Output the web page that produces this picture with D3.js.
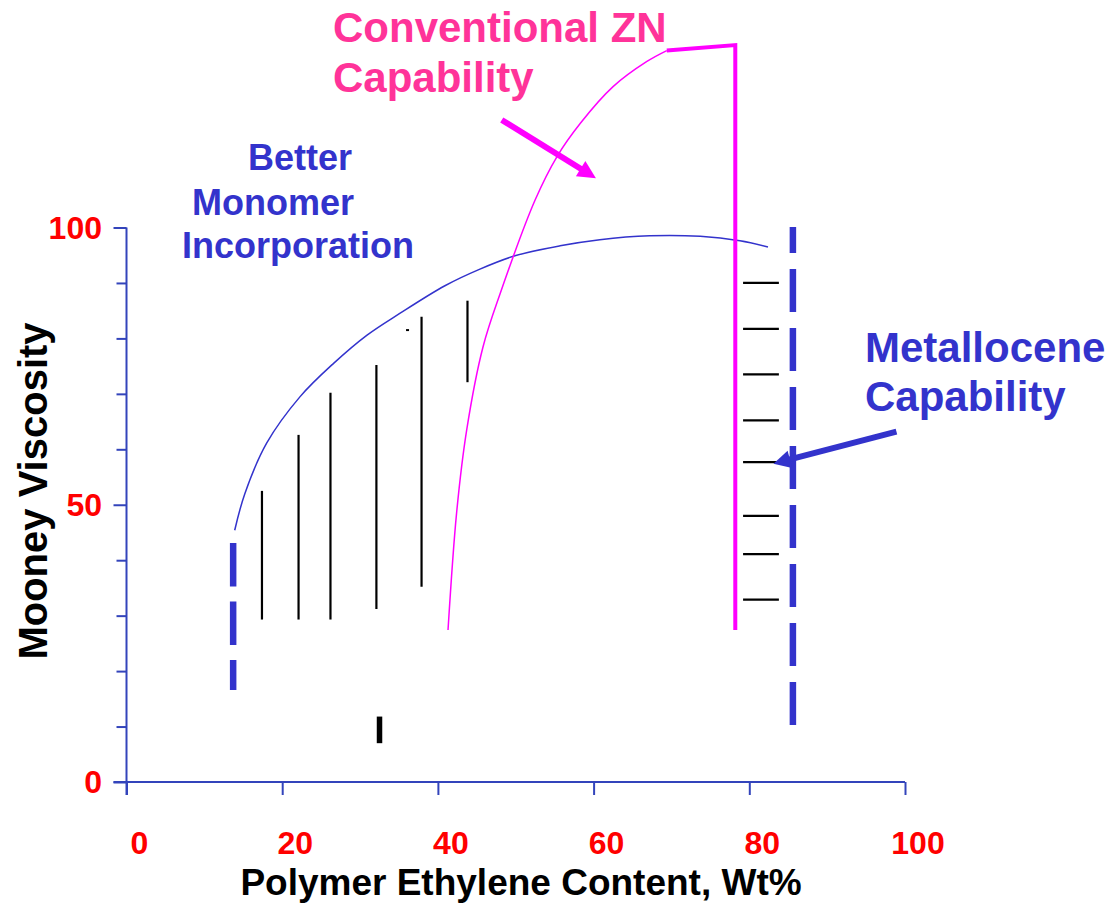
<!DOCTYPE html>
<html>
<head>
<meta charset="utf-8">
<script src="https://cdn.jsdelivr.net/npm/d3@7"></script>
<style>
  html, body { margin: 0; padding: 0; background: #fff; }
  svg { display: block; }
  text { font-family: "Liberation Sans", Arial, sans-serif; font-weight: bold; }
</style>
</head>
<body>
<svg id="chart" width="1110" height="903"></svg>
<script>
// ---------- data ----------
const xTicks = [0, 20, 40, 60, 80, 100];
const yMajorTicks = [0, 50, 100];
const yMinorTicks = [10, 20, 30, 40, 60, 70, 80, 90];

// metallocene envelope (thin blue curve)
const envelopeX = [13.9, 15.2, 18.0, 22.3, 26.6, 30.9, 35.1, 40.9, 45.4, 49.9, 55.7, 60.8, 67.2, 73.7, 78.8, 82.4];
const envelopeY = [45.4, 52.0, 61.1, 69.5, 75.5, 80.6, 84.5, 89.5, 92.5, 94.9, 96.7, 97.8, 98.5, 98.4, 97.6, 96.5];

// conventional ZN envelope (thin magenta curve)
const znCurveX = [41.3, 42.4, 43.7, 45.8, 48.0, 52.5, 55.3, 58.3, 62.5, 66.8, 69.4];
const znCurveY = [27.4, 48.5, 63.5, 78.5, 88.1, 105.0, 112.8, 118.8, 125.4, 129.9, 131.9];

// conventional ZN boundary (thick magenta)
const znEdgeX = [69.4, 78.2, 78.2];
const znEdgeY = [131.9, 132.9, 27.4];

// black vertical range bars
const barX = [17.4, 22.1, 26.2, 32.1, 37.9, 43.8];
const barLow = [29.3, 29.3, 29.3, 31.2, 35.2, 72.1];
const barHigh = [52.5, 62.6, 70.2, 75.2, 83.9, 86.8];

// stray small marks
const dotX = [36.1], dotY = [81.5];
const markX = [32.5], markLow = [7.0], markHigh = [11.8];

// black horizontal ticks at right
const hashY = [90.0, 81.7, 73.5, 65.2, 57.7, 48.0, 41.1, 32.9];
const hashX0 = 79.2, hashX1 = 83.8;

// blue dashed limits
const leftLimitX = 13.7, leftLimitTop = 43.1, leftLimitBottom = 16.6;
const rightLimitX = 85.6, rightLimitTop = 100.1, rightLimitBottom = 10.3;

// ---------- chart ----------
const svg = d3.select("#chart");
const x = d3.scaleLinear().domain([0, 100]).range([126.5, 905]);
const y = d3.scaleLinear().domain([0, 100]).range([782, 227.5]);

const BLUE = "#3333cc", AXIS = "#3344bb", MAG = "#ff00ff", PINK = "#ff3399", RED = "#ff0000";

// axes
const gx = svg.append("g").attr("transform", `translate(0,${y(0)})`)
  .call(d3.axisBottom(x).tickValues(xTicks).tickSize(13).tickSizeOuter(0).tickFormat(""));
gx.select(".domain").attr("stroke", AXIS).attr("stroke-width", 2).attr("d", `M${x(0) - 13},0H${x(100)}`);
gx.selectAll(".tick line").attr("stroke", AXIS).attr("stroke-width", 2);

const gy = svg.append("g").attr("transform", `translate(${x(0)},0)`)
  .call(d3.axisLeft(y).tickValues(yMajorTicks).tickSize(13).tickSizeOuter(0).tickFormat(""));
gy.select(".domain").attr("stroke", AXIS).attr("stroke-width", 2).attr("d", `M0,${y(100)}V${y(0) + 13}`);
gy.selectAll(".tick line").attr("stroke", AXIS).attr("stroke-width", 2);
const gy2 = svg.append("g").attr("transform", `translate(${x(0)},0)`)
  .call(d3.axisLeft(y).tickValues(yMinorTicks).tickSize(10).tickSizeOuter(0).tickFormat(""));
gy2.select(".domain").remove();
gy2.selectAll(".tick line").attr("stroke", AXIS).attr("stroke-width", 2);

// tick labels
svg.append("g").selectAll("text").data(xTicks).join("text")
  .attr("x", d => x(d) + 13).attr("y", 854)
  .attr("text-anchor", "middle").attr("font-size", 32).attr("fill", RED)
  .text(d => d);
svg.append("g").selectAll("text").data(yMajorTicks).join("text")
  .attr("x", 102).attr("y", d => y(d) + 11)
  .attr("text-anchor", "end").attr("font-size", 32).attr("fill", RED)
  .text(d => d);

// axis titles
svg.append("text").attr("x", 521).attr("y", 895).attr("text-anchor", "middle")
  .attr("font-size", 37).attr("fill", "#000").text("Polymer Ethylene Content, Wt%");
svg.append("text").attr("transform", "translate(47,491) rotate(-90)").attr("text-anchor", "middle")
  .attr("font-size", 40).attr("fill", "#000").text("Mooney Viscosity");

// curves
const smoothLine = d3.line().x(d => x(d[0])).y(d => y(d[1])).curve(d3.curveCatmullRom.alpha(0.5));
svg.append("path").attr("d", smoothLine(d3.zip(envelopeX, envelopeY)))
  .attr("fill", "none").attr("stroke", BLUE).attr("stroke-width", 1.5);
svg.append("path").attr("d", smoothLine(d3.zip(znCurveX, znCurveY)))
  .attr("fill", "none").attr("stroke", MAG).attr("stroke-width", 1.5);
svg.append("path").attr("d", d3.line().x(d => x(d[0])).y(d => y(d[1]))(d3.zip(znEdgeX, znEdgeY)))
  .attr("fill", "none").attr("stroke", MAG).attr("stroke-width", 4);

// black bars
svg.append("g").selectAll("line").data(d3.range(barX.length)).join("line")
  .attr("x1", i => x(barX[i])).attr("x2", i => x(barX[i]))
  .attr("y1", i => y(barLow[i])).attr("y2", i => y(barHigh[i]))
  .attr("stroke", "#000").attr("stroke-width", 2.2);
svg.append("g").selectAll("line").data(dotX).join("line")
  .attr("x1", (d) => x(d) - 1.5).attr("x2", d => x(d) + 1.5)
  .attr("y1", (d, i) => y(dotY[i])).attr("y2", (d, i) => y(dotY[i]))
  .attr("stroke", "#000").attr("stroke-width", 2);
svg.append("g").selectAll("line").data(markX).join("line")
  .attr("x1", d => x(d)).attr("x2", d => x(d))
  .attr("y1", (d, i) => y(markLow[i])).attr("y2", (d, i) => y(markHigh[i]))
  .attr("stroke", "#000").attr("stroke-width", 5.5);
svg.append("g").selectAll("line").data(hashY).join("line")
  .attr("x1", x(hashX0)).attr("x2", x(hashX1))
  .attr("y1", d => y(d)).attr("y2", d => y(d))
  .attr("stroke", "#000").attr("stroke-width", 2.2);

// blue dashed limits
svg.append("line").attr("x1", x(leftLimitX)).attr("x2", x(leftLimitX))
  .attr("y1", y(leftLimitTop)).attr("y2", y(leftLimitBottom))
  .attr("stroke", BLUE).attr("stroke-width", 6.5).attr("stroke-dasharray", "43.5,15");
svg.append("line").attr("x1", x(rightLimitX)).attr("x2", x(rightLimitX))
  .attr("y1", y(rightLimitBottom)).attr("y2", y(rightLimitTop))
  .attr("stroke", BLUE).attr("stroke-width", 6.5).attr("stroke-dasharray", "43,16");

// arrows
function arrow(x0, y0, x1, y1, color, w, hl, hw) {
  const X0 = x(x0), Y0 = y(y0), X1 = x(x1), Y1 = y(y1);
  const dx = X1 - X0, dy = Y1 - Y0, L = Math.hypot(dx, dy);
  const ux = dx / L, uy = dy / L;
  const bx = X1 - ux * hl, by = Y1 - uy * hl;
  svg.append("line").attr("x1", X0).attr("y1", Y0).attr("x2", bx + ux * 2).attr("y2", by + uy * 2)
    .attr("stroke", color).attr("stroke-width", w);
  svg.append("path")
    .attr("d", `M${X1},${Y1}L${bx - uy * hw},${by + ux * hw}L${bx + uy * hw},${by - ux * hw}Z`)
    .attr("fill", color);
}
arrow(48.2, 119.4, 60.3, 108.9, MAG, 6, 18, 9);
arrow(98.9, 63.2, 83.1, 57.4, BLUE, 6, 17, 9);

// annotations
const ann = svg.append("g");
[["Conventional ZN", 333, 41.5], ["Capability", 333, 92]].forEach(([t, tx, ty]) =>
  ann.append("text").attr("x", tx).attr("y", ty).attr("font-size", 42).attr("fill", PINK).text(t));
[["Better", 248, 170], ["Monomer", 192, 215], ["Incorporation", 182, 258]].forEach(([t, tx, ty]) =>
  ann.append("text").attr("x", tx).attr("y", ty).attr("font-size", 36).attr("fill", BLUE).text(t));
[["Metallocene", 865, 362], ["Capability", 865, 411]].forEach(([t, tx, ty]) =>
  ann.append("text").attr("x", tx).attr("y", ty).attr("font-size", 42).attr("fill", BLUE).text(t));
</script>
</body>
</html>
